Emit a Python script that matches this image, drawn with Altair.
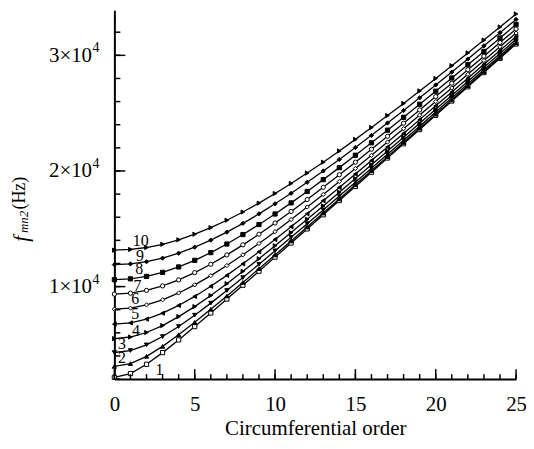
import altair as alt
import pandas as pd

# ---- data ----
orders = list(range(26))

curve_1 = [2150, 2480, 3280, 4290, 5390, 6540, 7720, 8920, 10120, 11330, 12550, 13770, 14990,
           16210, 17440, 18660, 19890, 21120, 22350, 23580, 24810, 26050, 27280, 28510, 29740, 30980]
curve_2 = [3100, 3340, 3970, 4830, 5840, 6910, 8040, 9190, 10360, 11550, 12740, 13950, 15150,
           16360, 17580, 18800, 20020, 21240, 22460, 23690, 24910, 26140, 27370, 28600, 29830, 31060]
curve_3 = [4300, 4470, 4960, 5680, 6550, 7530, 8570, 9660, 10780, 11930, 13090, 14260, 15440,
           16630, 17830, 19030, 20240, 21450, 22660, 23870, 25090, 26310, 27530, 28750, 29970, 31200]
curve_4 = [5500, 5640, 6030, 6630, 7400, 8270, 9230, 10250, 11320, 12410, 13530, 14670, 15820,
           16980, 18160, 19340, 20530, 21720, 22920, 24120, 25330, 26530, 27740, 28960, 30170, 31390]
curve_5 = [6750, 6860, 7190, 7700, 8370, 9150, 10030, 10970, 11970, 13010, 14080, 15180, 16300,
           17430, 18570, 19730, 20900, 22070, 23250, 24440, 25630, 26820, 28020, 29220, 30420, 31630]
curve_6 = [8050, 8140, 8420, 8860, 9450, 10150, 10950, 11820, 12750, 13730, 14750, 15800, 16880,
           17970, 19090, 20210, 21350, 22500, 23660, 24830, 26000, 27180, 28360, 29550, 30740, 31930]
curve_7 = [9350, 9430, 9670, 10060, 10580, 11210, 11930, 12740, 13610, 14530, 15500, 16500, 17530,
           18590, 19670, 20760, 21880, 23000, 24130, 25280, 26430, 27590, 28760, 29930, 31100, 32280]
curve_8 = [10600, 10670, 10880, 11230, 11700, 12270, 12940, 13680, 14500, 15370, 16280, 17240, 18230,
           19250, 20290, 21360, 22440, 23530, 24640, 25770, 26900, 28040, 29190, 30340, 31500, 32670]
curve_9 = [11900, 11960, 12150, 12460, 12890, 13410, 14020, 14710, 15470, 16290, 17160, 18070, 19020,
           20000, 21000, 22030, 23080, 24150, 25230, 26330, 27440, 28550, 29680, 30820, 31960, 33110]
curve_10 = [13150, 13210, 13380, 13660, 14050, 14530, 15100, 15740, 16450, 17220, 18050, 18920, 19820,
            20760, 21730, 22730, 23750, 24790, 25840, 26920, 28000, 29100, 30210, 31320, 32450, 33580]

curve_names = ["1", "2", "3", "4", "5", "6", "7", "8", "9", "10"]
curves = [curve_1, curve_2, curve_3, curve_4, curve_5, curve_6, curve_7, curve_8, curve_9, curve_10]

# curve number annotations (data coordinates)
label_text = ["1", "2", "3", "4", "5", "6", "7", "8", "9", "10"]
label_n = [2.8, 0.47, 0.47, 1.34, 1.3, 1.3, 1.44, 1.54, 1.6, 1.64]
label_f = [2750, 3800, 5000, 6200, 7600, 8950, 10050, 11550, 12650, 13980]

x_tick_values = list(range(26))
x_major_ticks = [0, 5, 10, 15, 20, 25]
y_tick_values = list(range(2000, 33000, 2000))
y_major_ticks = [10000, 20000, 30000]
y_exponent = ["4", "4", "4"]

# ---- build tables ----
rows = []
for name, vals in zip(curve_names, curves):
    for n, f in zip(orders, vals):
        rows.append({"curve": name, "n": n, "f": f})
df = pd.DataFrame(rows)

shape_range = ["square", "triangle-up", "triangle-down", "triangle-right", "triangle-left",
               "diamond", "circle", "square", "diamond", "triangle-right"]
fill_range = ["white", "black", "black", "black", "black",
              "white", "white", "black", "black", "black"]

FONT = "Liberation Serif"
W, H = 404, 371

xscale = alt.Scale(domain=[0, 25], nice=False, zero=False)
yscale = alt.Scale(domain=[2000, 33900], nice=False, zero=False)

xaxis = alt.Axis(values=x_major_ticks, format="d", tickSize=0, grid=False, labelFlush=False,
                 domainWidth=2, domainColor="black", labelFont=FONT, labelFontSize=21,
                 labelColor="black", labelPadding=15, titleFont=FONT, titleFontSize=21,
                 titleFontWeight="normal", titleColor="black", titlePadding=3,
                 title="Circumferential order")
yaxis = alt.Axis(values=y_major_ticks, labelExpr="datum.value/10000 + '×10'", tickSize=0,
                 grid=False, domainWidth=2, domainColor="black", labelFont=FONT, labelFlush=False,
                 labelFontSize=21, labelColor="black", labelPadding=23, title=None)


def X(field="n"):
    return alt.X(f"{field}:Q", scale=xscale, axis=xaxis, title="Circumferential order")


def Y(field="f"):
    return alt.Y(f"{field}:Q", scale=yscale, axis=yaxis, title=None)


lines = alt.Chart(df).mark_line(color="black", strokeWidth=1.3).encode(
    x=X(), y=Y(), detail="curve:N",
)

points = alt.Chart(df).mark_point(stroke="black", strokeWidth=1, opacity=1, filled=False).encode(
    x=X(), y=Y(),
    shape=alt.Shape("curve:N", scale=alt.Scale(domain=curve_names, range=shape_range), legend=None),
    fill=alt.Fill("curve:N", scale=alt.Scale(domain=curve_names, range=fill_range), legend=None),
    size=alt.value(18),
)

labels_df = pd.DataFrame({"t": label_text, "n": label_n, "f": label_f})
labels = alt.Chart(labels_df).mark_text(font=FONT, fontSize=16, color="black",
                                        align="center", baseline="middle").encode(
    x=X(), y=Y(), text="t:N",
)

exp_df = pd.DataFrame({"f": y_major_ticks, "e": y_exponent})
exponents = alt.Chart(exp_df).mark_text(font=FONT, fontSize=14, color="black", align="left",
                                        baseline="middle", dy=-7).encode(
    y=Y(), x=alt.value(-22), text="e:N",
)

xt_minor = alt.Chart(pd.DataFrame({"n": x_tick_values})).mark_rule(color="black", strokeWidth=1.5).encode(
    x=X(), y=alt.value(H), y2=alt.value(H - 5))
xt_major = alt.Chart(pd.DataFrame({"n": x_major_ticks})).mark_rule(color="black", strokeWidth=1.5).encode(
    x=X(), y=alt.value(H), y2=alt.value(H - 10))
yt_minor = alt.Chart(pd.DataFrame({"f": y_tick_values})).mark_rule(color="black", strokeWidth=1.5).encode(
    y=Y(), x=alt.value(0), x2=alt.value(6))
yt_major = alt.Chart(pd.DataFrame({"f": y_major_ticks})).mark_rule(color="black", strokeWidth=1.5).encode(
    y=Y(), x=alt.value(0), x2=alt.value(11))

t_f = alt.Chart(pd.DataFrame({"t": ["f"]})).mark_text(
    font=FONT, fontSize=21, fontStyle="italic", angle=270, align="center", baseline="middle",
    color="black").encode(x=alt.value(-93), y=alt.value(230), text="t:N")
t_sub = alt.Chart(pd.DataFrame({"t": ["mn2"]})).mark_text(
    font=FONT, fontSize=13, fontStyle="italic", angle=270, align="center", baseline="middle",
    color="black").encode(x=alt.value(-91), y=alt.value(213), text="t:N")
t_hz = alt.Chart(pd.DataFrame({"t": ["(Hz)"]})).mark_text(
    font=FONT, fontSize=18, angle=270, align="center", baseline="middle",
    color="black").encode(x=alt.value(-95), y=alt.value(184), text="t:N")

chart = alt.layer(
    lines, points, labels, exponents, xt_minor, xt_major, yt_minor, yt_major, t_f, t_sub, t_hz
).properties(
    width=W, height=H,
    background="white",
    autosize=alt.AutoSizeParams(type="none"),
    padding={"left": 107, "top": 1, "right": 10, "bottom": 60},
).configure_view(stroke=None)

chart.save("out.html", embed_options={"renderer": "svg", "actions": False})
